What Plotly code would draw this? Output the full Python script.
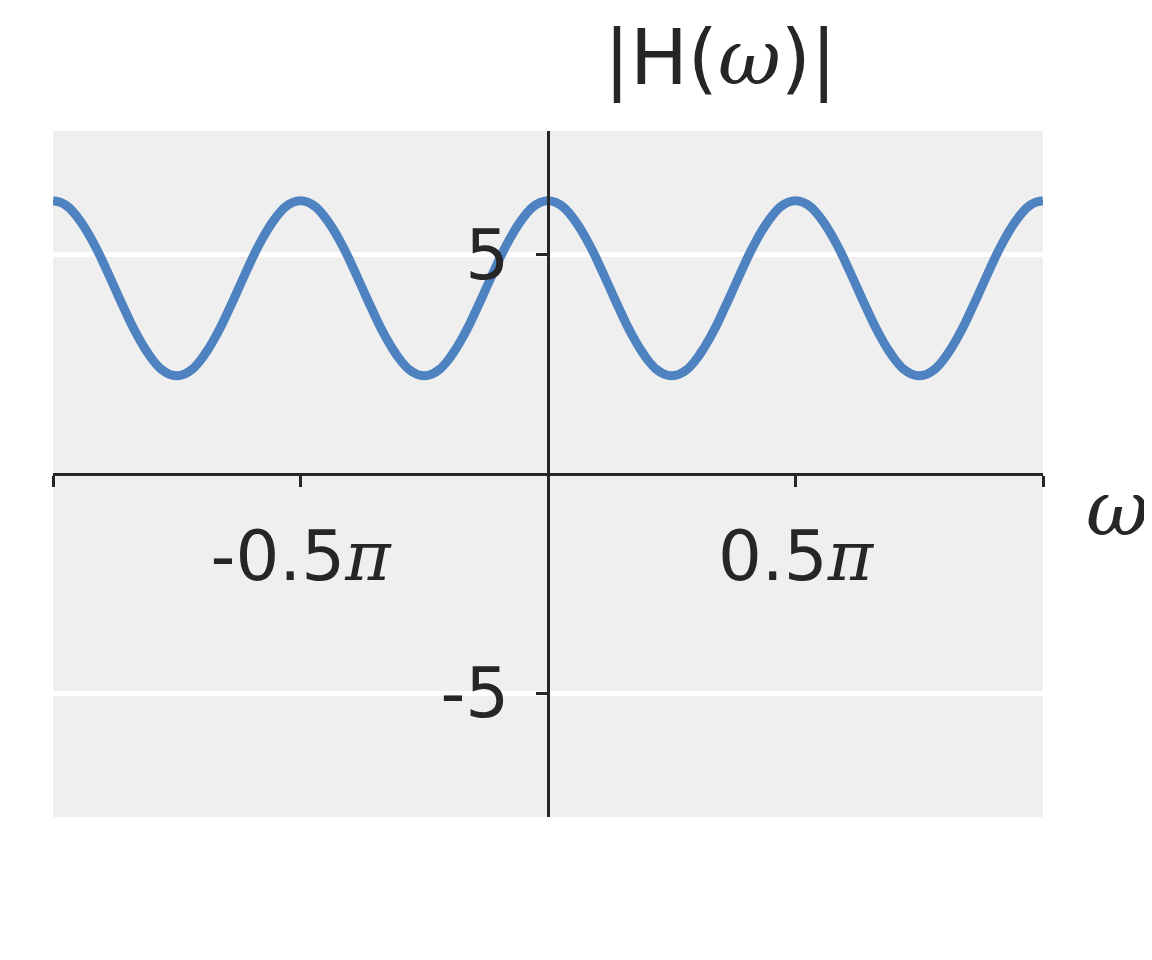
import plotly.graph_objects as go

PI = 3.141592653589793

# omega sample positions in units of pi (step pi/64)
omega_over_pi = [i / 64 - 1 for i in range(129)]
mag = [
    6.24, 6.20, 6.09, 5.90, 5.65, 5.35, 5.01, 4.63, 4.24, 3.85, 3.47, 3.13, 2.83, 2.58, 2.39, 2.28,
    2.24, 2.28, 2.39, 2.58, 2.83, 3.13, 3.47, 3.85, 4.24, 4.63, 5.01, 5.35, 5.65, 5.90, 6.09, 6.20,
    6.24, 6.20, 6.09, 5.90, 5.65, 5.35, 5.01, 4.63, 4.24, 3.85, 3.47, 3.13, 2.83, 2.58, 2.39, 2.28,
    2.24, 2.28, 2.39, 2.58, 2.83, 3.13, 3.47, 3.85, 4.24, 4.63, 5.01, 5.35, 5.65, 5.90, 6.09, 6.20,
    6.24, 6.20, 6.09, 5.90, 5.65, 5.35, 5.01, 4.63, 4.24, 3.85, 3.47, 3.13, 2.83, 2.58, 2.39, 2.28,
    2.24, 2.28, 2.39, 2.58, 2.83, 3.13, 3.47, 3.85, 4.24, 4.63, 5.01, 5.35, 5.65, 5.90, 6.09, 6.20,
    6.24, 6.20, 6.09, 5.90, 5.65, 5.35, 5.01, 4.63, 4.24, 3.85, 3.47, 3.13, 2.83, 2.58, 2.39, 2.28,
    2.24, 2.28, 2.39, 2.58, 2.83, 3.13, 3.47, 3.85, 4.24, 4.63, 5.01, 5.35, 5.65, 5.90, 6.09, 6.20,
    6.24,
]
x_tick_pi = [-1, -0.5, 0, 0.5, 1]
x_tick_text = ["", "-0.5", "", "0.5", ""]
y_tick_vals = [-5, 5]
y_tick_text = ["-5", "5"]

SERIF = "font-family:DejaVu Serif;font-style:italic"
x = [v * PI for v in omega_over_pi]
xt_vals = [v * PI for v in x_tick_pi]
xt_text = [t + (f'<span style="{SERIF}">π</span>' if t else "") for t in x_tick_text]

fig = go.Figure()
fig.add_trace(go.Scatter(x=x, y=mag, mode="lines",
                         line=dict(color="#4e82c0", width=9, shape="spline", smoothing=0.8),
                         showlegend=False, hoverinfo="skip"))

dark = "#262626"
# page body has an 8px margin, so the figure is 8px smaller and offset
OFF = 8
W, H = 1152 - OFF, 960 - OFF
L, T = 53 - OFF, 131 - OFF
R, B = 1152 - 1043, 960 - 817
PW, PH = W - L - R, H - T - B

def px(xp):
    return (xp - OFF - L) / PW

def py(yp):
    return 1 - (yp - OFF - T) / PH

fig.update_layout(
    width=W, height=H, autosize=False,
    margin=dict(l=L, r=R, t=T, b=B),
    paper_bgcolor="white", plot_bgcolor="#efefef",
    font=dict(family="DejaVu Sans", size=69, color=dark),
    xaxis=dict(range=[-PI, PI], anchor="free", position=0.5,
               tickvals=xt_vals, ticktext=xt_text,
               showline=True, linecolor=dark, linewidth=3,
               ticks="outside", ticklen=11, tickwidth=3, tickcolor=dark,
               ticklabelstandoff=10,
               showgrid=False, zeroline=False),
    yaxis=dict(range=[-7.83, 7.83], anchor="free", position=0.5,
               tickvals=y_tick_vals, ticktext=y_tick_text,
               showline=True, linecolor=dark, linewidth=3,
               ticks="outside", ticklen=11, tickwidth=3, tickcolor=dark,
               ticklabelstandoff=13,
               showgrid=True, gridcolor="white", gridwidth=5, zeroline=False),
    annotations=[
        dict(text=f'|H(<span style="{SERIF}">ω</span>)|', xref="paper", yref="paper",
             x=px(720), y=py(58), xanchor="center", yanchor="middle",
             showarrow=False, font=dict(size=77, color=dark)),
        dict(text=f'<span style="{SERIF}">ω</span>', xref="paper", yref="paper",
             x=px(1117), y=py(509), xanchor="center", yanchor="middle",
             showarrow=False, font=dict(size=77, color=dark)),
    ],
)

fig.write_html("out.html")
